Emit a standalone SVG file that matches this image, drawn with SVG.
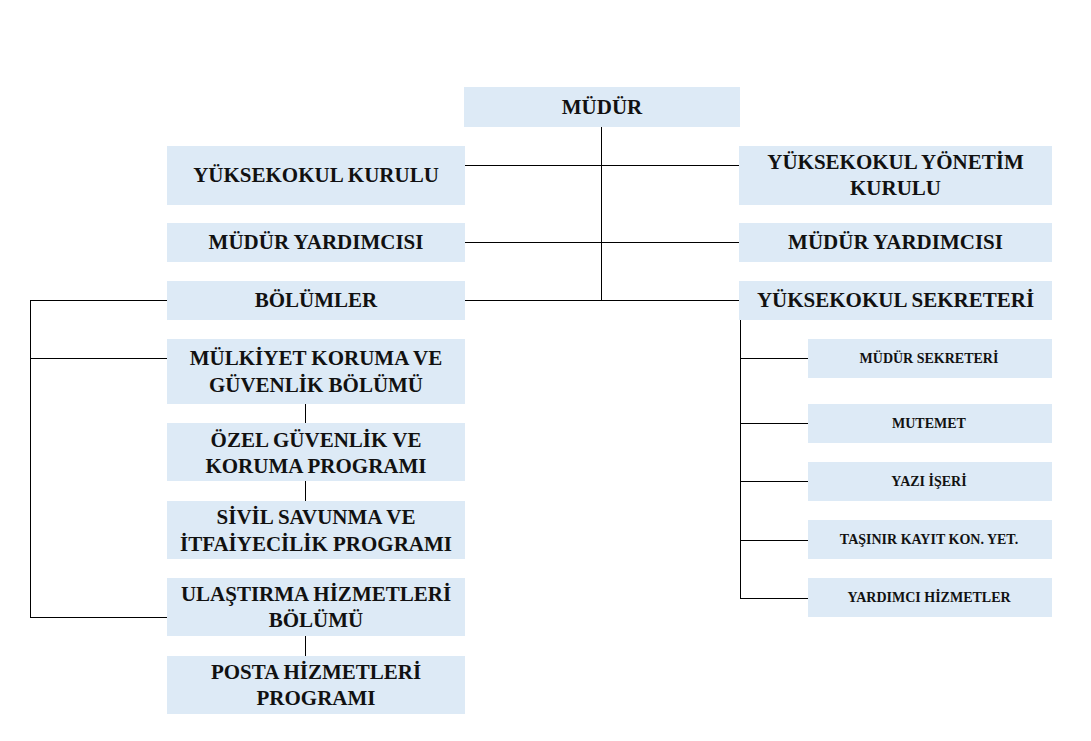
<svg xmlns="http://www.w3.org/2000/svg" width="1091" height="741" viewBox="0 0 1091 741">
<style>
.box{fill:#DDEAF6;}
.t{font-family:"Liberation Serif","Times New Roman",serif;font-weight:bold;font-size:21px;fill:#111;text-anchor:middle;}
.s{font-family:"Liberation Serif","Times New Roman",serif;font-weight:bold;font-size:14px;fill:#111;text-anchor:middle;}
.c{stroke:#000;stroke-width:1.3;fill:none;shape-rendering:crispEdges;}
</style>
<rect width="1091" height="741" fill="#fff"/>
<g id="connectors">
<path class="c" d="M601.5 127V300.5M465 165.5H739M465 242.5H739M465 300.5H739"/>
<path class="c" d="M167 300.5H30.5V617.5H167M30.5 358.5H167"/>
<path class="c" d="M305.5 404V423M305.5 481V501M305.5 636V656"/>
<path class="c" d="M740.5 320V598.5M740.5 358.5H808M740.5 423.5H808M740.5 481.5H808M740.5 540.5H808M740.5 598.5H808"/>
</g>
<g id="mudur"><rect class="box" x="464" y="87" width="276" height="40"/><text class="t" x="602" y="114">MÜDÜR</text></g>
<g id="yk-kurulu"><rect class="box" x="167" y="146" width="298" height="59"/><text class="t" x="316" y="182">YÜKSEKOKUL KURULU</text></g>
<g id="mudur-yard-left"><rect class="box" x="167" y="223" width="298" height="39"/><text class="t" x="316" y="249">MÜDÜR YARDIMCISI</text></g>
<g id="bolumler"><rect class="box" x="167" y="281" width="298" height="39"/><text class="t" x="316" y="307">BÖLÜMLER</text></g>
<g id="mulkiyet"><rect class="box" x="167" y="339" width="298" height="65"/><text class="t" x="316" y="365">MÜLKİYET KORUMA VE</text><text class="t" x="316" y="392">GÜVENLİK BÖLÜMÜ</text></g>
<g id="ozel"><rect class="box" x="167" y="423" width="298" height="58"/><text class="t" x="316" y="447">ÖZEL GÜVENLİK VE</text><text class="t" x="316" y="473">KORUMA PROGRAMI</text></g>
<g id="sivil"><rect class="box" x="167" y="501" width="298" height="58"/><text class="t" x="316" y="524">SİVİL SAVUNMA VE</text><text class="t" x="316" y="551">İTFAİYECİLİK PROGRAMI</text></g>
<g id="ulastirma"><rect class="box" x="167" y="578" width="298" height="58"/><text class="t" x="316" y="601">ULAŞTIRMA HİZMETLERİ</text><text class="t" x="316" y="627">BÖLÜMÜ</text></g>
<g id="posta"><rect class="box" x="167" y="656" width="298" height="58"/><text class="t" x="316" y="679">POSTA HİZMETLERİ</text><text class="t" x="316" y="705">PROGRAMI</text></g>
<g id="yonetim"><rect class="box" x="739" y="146" width="313" height="59"/><text class="t" x="895.5" y="169">YÜKSEKOKUL YÖNETİM</text><text class="t" x="895.5" y="195">KURULU</text></g>
<g id="mudur-yard-right"><rect class="box" x="739" y="223" width="313" height="39"/><text class="t" x="895.5" y="249">MÜDÜR YARDIMCISI</text></g>
<g id="sekreter"><rect class="box" x="739" y="281" width="313" height="39"/><text class="t" x="895.5" y="307">YÜKSEKOKUL SEKRETERİ</text></g>
<g id="mudur-sekreteri"><rect class="box" x="808" y="339" width="244" height="39"/><text class="s" x="929" y="363">MÜDÜR SEKRETERİ</text></g>
<g id="mutemet"><rect class="box" x="808" y="404" width="244" height="39"/><text class="s" x="929" y="428">MUTEMET</text></g>
<g id="yazi"><rect class="box" x="808" y="462" width="244" height="39"/><text class="s" x="929" y="486">YAZI İŞERİ</text></g>
<g id="tasinir"><rect class="box" x="808" y="520" width="244" height="39"/><text class="s" x="929" y="544">TAŞINIR KAYIT KON. YET.</text></g>
<g id="yardimci"><rect class="box" x="808" y="578" width="244" height="39"/><text class="s" x="929" y="602">YARDIMCI HİZMETLER</text></g>
</svg>
